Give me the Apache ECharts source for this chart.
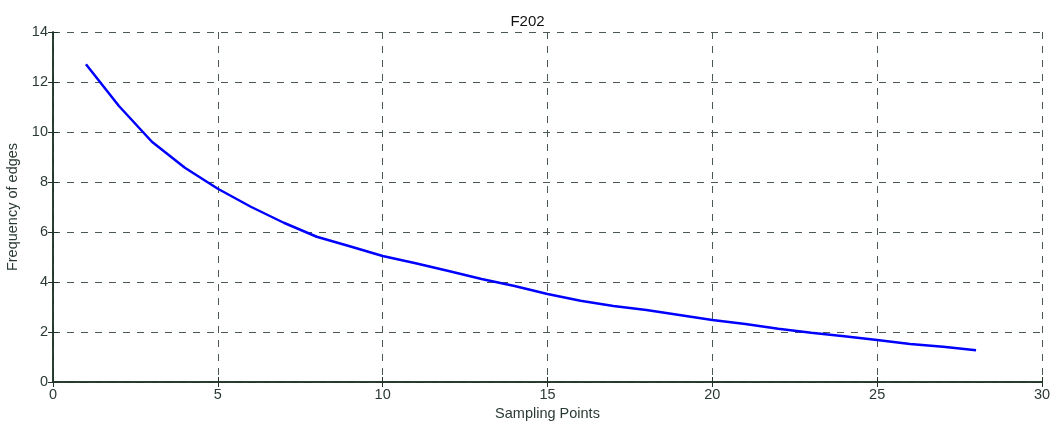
<!DOCTYPE html>
<html>
<head>
<meta charset="utf-8">
<script src="https://cdn.jsdelivr.net/npm/echarts@6/dist/echarts.min.js"></script>
<style>
html, body { margin: 0; padding: 0; background: #fff; }
#chart { width: 1055px; height: 426px; }
</style>
</head>
<body>
<div id="chart"></div>
<script>
var samplePoints = [1, 2, 3, 4, 5, 6, 7, 8, 9, 10, 11, 12, 13, 14, 15, 16, 17, 18, 19, 20, 21, 22, 23, 24, 25, 26, 27, 28];
var edgeFreq = [12.71, 11.04, 9.61, 8.57, 7.73, 7.01, 6.37, 5.81, 5.43, 5.04, 4.75, 4.44, 4.12, 3.84, 3.52, 3.25, 3.04, 2.88, 2.68, 2.48, 2.32, 2.13, 1.97, 1.83, 1.68, 1.52, 1.41, 1.27];

var chart = echarts.init(document.getElementById('chart'));
var txt = '#2b3b33';
var axisCol = '#1f3326';
var gridLine = '#4a5a50';
var fontFam = 'Liberation Sans, Arial, sans-serif';

var pts = [];
for (var i = 0; i < samplePoints.length; i++) {
	pts.push([samplePoints[i], edgeFreq[i]]);
}

// box axes (top / right) only carry ticks
function boxAxis(pos, max, step) {
	return {
		type: 'value', min: 0, max: max, interval: step, position: pos,
		axisLine: { show: true, lineStyle: { color: axisCol, width: 1.5 } },
		axisTick: { show: true, inside: true, length: 5, lineStyle: { color: axisCol } },
		axisLabel: { show: false },
		splitLine: { show: false }
	};
}

var option = {
	animation: false,
	title: {
		text: 'F202',
		left: 'center',
		top: 9,
		textStyle: { fontSize: 15, fontWeight: 'normal', color: '#111', fontFamily: fontFam }
	},
	grid: { left: 53, right: 13, top: 32, bottom: 44, containLabel: false, outerBoundsMode: 'none' },
	xAxis: [
		{
			type: 'value', min: 0, max: 30, interval: 5, position: 'bottom',
			name: 'Sampling Points', nameLocation: 'middle', nameGap: 24,
			nameTextStyle: { fontSize: 14.5, color: txt, fontFamily: fontFam },
			axisLine: { show: true, lineStyle: { color: axisCol, width: 1.5 } },
			axisTick: { show: true, inside: true, length: 5, lineStyle: { color: axisCol } },
			axisLabel: { fontSize: 14.5, color: txt, margin: 5, fontFamily: fontFam },
			splitLine: { show: true, lineStyle: { color: gridLine, type: [7, 7], width: 1 } }
		},
		boxAxis('top', 30, 5)
	],
	yAxis: [
		{
			type: 'value', min: 0, max: 14, interval: 2, position: 'left',
			name: 'Frequency of edges', nameLocation: 'middle', nameGap: 30,
			nameTextStyle: { fontSize: 14.5, color: txt, fontFamily: fontFam },
			axisLine: { show: true, lineStyle: { color: axisCol, width: 1.5 } },
			axisTick: { show: true, inside: true, length: 5, lineStyle: { color: axisCol } },
			axisLabel: { fontSize: 14.5, color: txt, margin: 5, fontFamily: fontFam },
			splitLine: { show: true, lineStyle: { color: gridLine, type: [7, 7], width: 1 } }
		},
		boxAxis('right', 14, 2)
	],
	series: [
		{
			name: 'F202',
			type: 'line',
			data: pts,
			showSymbol: false,
			symbol: 'none',
			smooth: false,
			lineStyle: { color: '#0000ff', width: 2.5 },
			itemStyle: { color: '#0000ff' }
		}
	]
};

chart.setOption(option);
</script>
</body>
</html>
